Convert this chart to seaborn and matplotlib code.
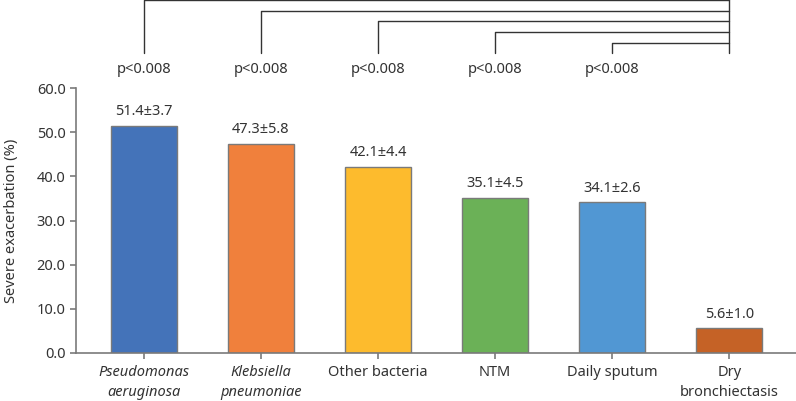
import matplotlib
matplotlib.use("Agg")
import matplotlib.pyplot as plt
import seaborn as sns
import pandas as pd

categories = ["Pseudomonas\naeruginosa", "Klebsiella\npneumoniae", "Other bacteria", "NTM", "Daily sputum", "Dry\nbronchiectasis"]
values = [51.4, 47.3, 42.1, 35.1, 34.1, 5.6]
errors = [3.7, 5.8, 4.4, 4.5, 2.6, 1.0]
colors = ["#4473B9", "#F0803C", "#FDBB2D", "#6BB157", "#5197D3", "#C56226"]
pvals = ["p<0.008", "p<0.008", "p<0.008", "p<0.008", "p<0.008"]
yticks = [0, 10, 20, 30, 40, 50, 60]

sns.set_theme(style="ticks")
plt.rcParams["font.family"] = ["Noto Sans", "DejaVu Sans"]

df = pd.DataFrame({"cat": categories, "val": values})
fig = plt.figure(figsize=(7.96, 4.01), dpi=100)
ax = fig.add_axes([76/796, 48/401, 1 - 76/796, 265/401])
sns.barplot(data=df, x="cat", y="val", hue="cat", palette=colors, legend=False,
            width=0.56, edgecolor="#7a7a7a", linewidth=1.0, saturation=1, ax=ax)

ax.set_xlim(-0.58, 5.57)
ax.set_ylim(0, 60)
ax.set_yticks(yticks)
ax.set_yticklabels([f"{t:.1f}" for t in yticks])
ax.set_xlabel("")
ax.set_ylabel("Severe exacerbation (%)", fontsize=10.5, color="#333333", labelpad=13)
for s in ["top", "right"]:
    ax.spines[s].set_visible(False)
for s in ["left", "bottom"]:
    ax.spines[s].set_color("#7a7a7a")
    ax.spines[s].set_linewidth(1.2)
ax.tick_params(axis="both", colors="#7a7a7a", length=4, width=1.2, labelsize=10.5, labelcolor="#333333")
ax.tick_params(axis="x", pad=5)
for i, lab in enumerate(ax.get_xticklabels()):
    lab.set_linespacing(1.45)
    if i < 2:
        lab.set_style("italic")

for i, (v, e) in enumerate(zip(values, errors)):
    ax.text(i, v + 1.5, f"{v}±{e}", ha="center", va="bottom", fontsize=10.5, color="#333333")

# significance brackets (all compared against last category)
ref = len(categories) - 1
top = 79.9
step = 2.4
bottom = 67.9
for i, p in enumerate(pvals):
    yl = top - i * step
    ax.plot([i, i, ref], [bottom, yl, yl], color="#333333", lw=1.0, clip_on=False)
    ax.text(i, 64.3, p, ha="center", va="center", fontsize=10.5, color="#333333")
ax.plot([ref, ref], [bottom, top], color="#333333", lw=1.0, clip_on=False)

fig.savefig("out.png", dpi=100)
